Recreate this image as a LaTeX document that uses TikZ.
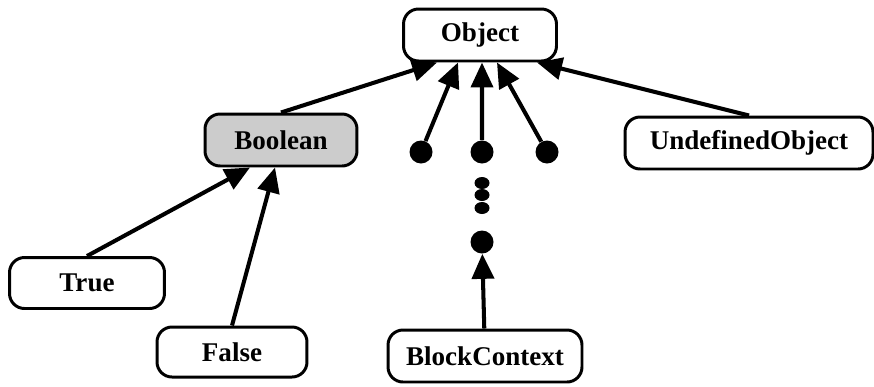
\documentclass[tikz,border=0pt]{standalone}
\usepackage{fontspec}
\setmainfont{Liberation Serif}
\usetikzlibrary{arrows.meta}

\begin{document}
\begin{tikzpicture}[x=0.02cm,y=-0.02cm,>={Triangle[length=0.5cm,width=0.44cm]},
    cls/.style={draw,line width=1.7pt,rounded corners=0.3cm,minimum height=1.04cm,
      inner sep=0pt,font=\bfseries\fontsize{15.4}{18}\selectfont},
    dot/.style={circle,fill,inner sep=0pt,minimum size=0.46cm},
    inh/.style={->,line width=2.3pt}]
  \useasboundingbox (0,0) rectangle (874,386);
  \node[cls,minimum width=3.06cm] (obj) at (480,35) {Object};
  \node[cls,minimum width=3.04cm,fill=gray!40] (bool) at (281,140) {Boolean};
  \node[cls,minimum width=3.1cm,minimum height=1.02cm] (true) at (87,283) {True};
  \node[cls,minimum width=3.0cm,minimum height=1.0cm] (false) at (232,352) {False};
  \node[cls,minimum width=3.88cm] (bc) at (485,356) {BlockContext};
  \node[cls,minimum width=4.96cm] (undef) at (749,143) {UndefinedObject};

  \node[dot] (d1) at (421,152) {};
  \node[dot] (d2) at (482,152) {};
  \node[dot] (d3) at (547,152) {};
  \node[dot] (d4) at (482,242) {};
  \foreach \y in {183,195,208}
    \fill (482,\y) ellipse [x radius=0.15cm,y radius=0.12cm];

  \draw[inh] (bool.north) -- ([xshift=-0.86cm]obj.south);
  \draw[inh] (d1) -- ([xshift=-0.44cm]obj.south);
  \draw[inh] (d2) -- ([xshift=0.04cm]obj.south);
  \draw[inh] (d3) -- ([xshift=0.34cm]obj.south);
  \draw[inh] (undef.north) -- ([xshift=1.14cm]obj.south);
  \draw[inh] (true.north) -- ([xshift=-0.62cm]bool.south);
  \draw[inh] (false.north) -- ([xshift=-0.12cm]bool.south);
  \draw[inh] (bc) -- (d4);
\end{tikzpicture}
\end{document}
